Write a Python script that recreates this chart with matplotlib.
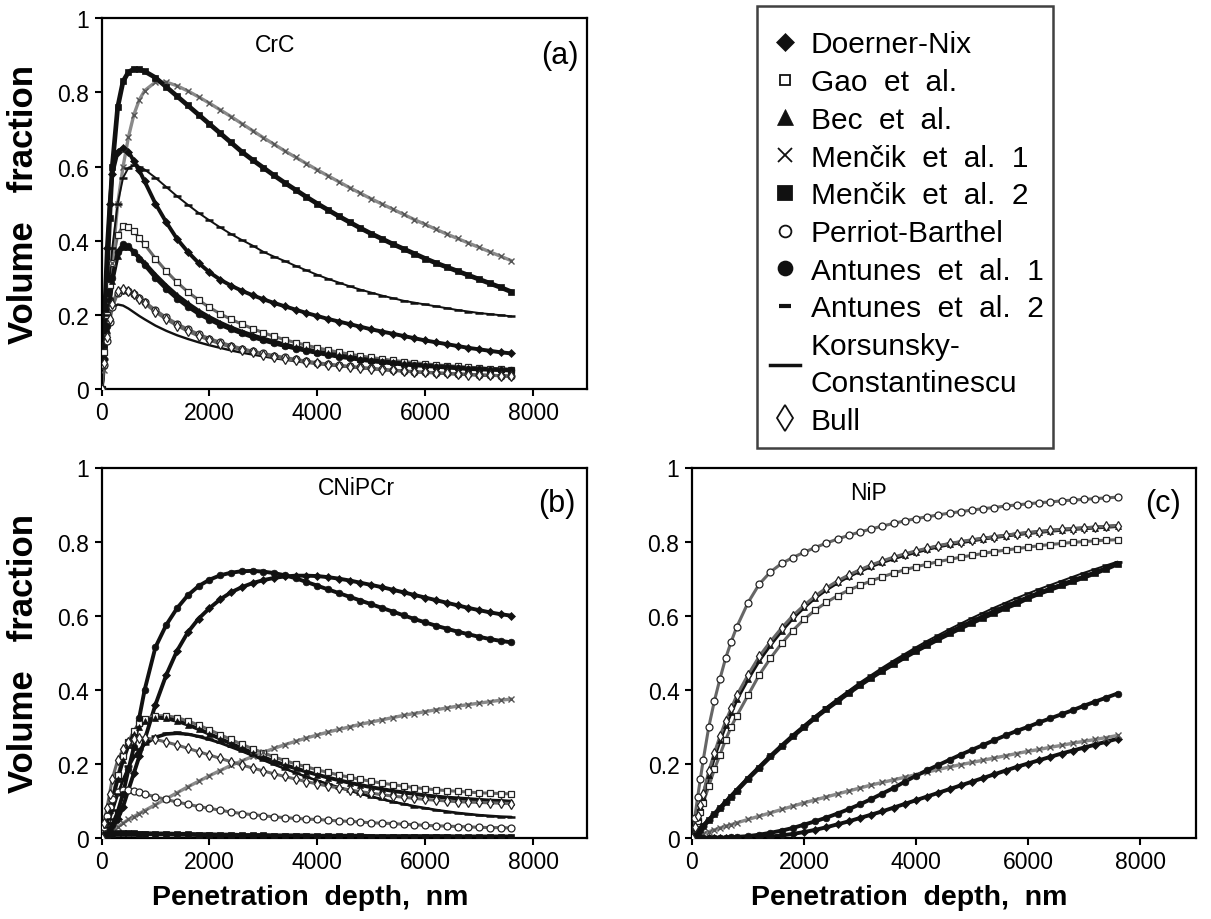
import matplotlib
matplotlib.use('Agg')
import matplotlib.pyplot as plt
from matplotlib.lines import Line2D

plt.rcParams['font.family'] = ['Liberation Sans', 'DejaVu Sans']

# ---------------- data ----------------
depth_nm = [0, 50, 100, 150, 200, 300, 400, 500, 600, 700, 800,
            1000, 1200, 1400, 1600, 1800, 2000, 2200, 2400, 2600, 2800,
            3000, 3200, 3400, 3600, 3800, 4000, 4200, 4400, 4600, 4800,
            5000, 5200, 5400, 5600, 5800, 6000, 6200, 6400, 6600, 6800,
            7000, 7200, 7400, 7600]

model_labels = ['Doerner-Nix', 'Gao  et  al.', 'Bec  et  al.', 'Menčik  et  al.  1',
                'Menčik  et  al.  2', 'Perriot-Barthel', 'Antunes  et  al.  1',
                'Antunes  et  al.  2', 'Korsunsky-\nConstantinescu', 'Bull']

panel_titles = ['CrC', 'CNiPCr', 'NiP']
panel_tags = ['(a)', '(b)', '(c)']
x_ticks = [0, 2000, 4000, 6000, 8000]
y_ticks = [0, 0.2, 0.4, 0.6, 0.8, 1.0]
y_tick_labels = ['0', '0.2', '0.4', '0.6', '0.8', '1']

# ---- (a) CrC ----
crc_doerner_nix = [0, 0.2, 0.38, 0.5, 0.58, 0.64, 0.65, 0.64, 0.615, 0.59, 0.56,
                   0.5, 0.45, 0.405, 0.37, 0.34, 0.315, 0.295, 0.279, 0.265, 0.253,
                   0.242, 0.232, 0.223, 0.214, 0.205, 0.197, 0.189, 0.182, 0.175, 0.168,
                   0.161, 0.155, 0.149, 0.143, 0.137, 0.131, 0.126, 0.121, 0.116, 0.111,
                   0.107, 0.103, 0.099, 0.096]
crc_gao = [0, 0.1, 0.2, 0.28, 0.34, 0.415, 0.44, 0.437, 0.425, 0.408, 0.39,
           0.352, 0.318, 0.288, 0.262, 0.24, 0.22, 0.203, 0.188, 0.175, 0.163,
           0.152, 0.142, 0.133, 0.125, 0.118, 0.111, 0.105, 0.099, 0.094, 0.089,
           0.085, 0.081, 0.077, 0.074, 0.071, 0.068, 0.065, 0.063, 0.061, 0.059,
           0.057, 0.055, 0.054, 0.052]
crc_bec = [0, 0.07, 0.16, 0.23, 0.29, 0.36, 0.384, 0.382, 0.37, 0.355, 0.34,
           0.308, 0.279, 0.253, 0.231, 0.211, 0.194, 0.179, 0.166, 0.155, 0.145,
           0.136, 0.128, 0.12, 0.113, 0.107, 0.101, 0.096, 0.091, 0.086, 0.082,
           0.078, 0.075, 0.072, 0.069, 0.066, 0.064, 0.062, 0.06, 0.058, 0.056,
           0.055, 0.054, 0.053, 0.052]
crc_mencik1 = [0, 0.05, 0.14, 0.24, 0.34, 0.5, 0.6, 0.68, 0.74, 0.78, 0.805,
               0.828, 0.828, 0.818, 0.804, 0.788, 0.771, 0.753, 0.735, 0.716, 0.697,
               0.678, 0.66, 0.642, 0.625, 0.608, 0.591, 0.575, 0.559, 0.543, 0.528,
               0.513, 0.499, 0.485, 0.471, 0.457, 0.444, 0.431, 0.418, 0.406, 0.394,
               0.382, 0.37, 0.358, 0.346]
crc_mencik2 = [0, 0.12, 0.3, 0.46, 0.6, 0.76, 0.83, 0.855, 0.863, 0.862, 0.857,
               0.84, 0.815, 0.79, 0.765, 0.74, 0.715, 0.69, 0.665, 0.64, 0.618,
               0.597, 0.576, 0.556, 0.537, 0.518, 0.5, 0.483, 0.466, 0.45, 0.434,
               0.419, 0.405, 0.391, 0.378, 0.365, 0.352, 0.34, 0.329, 0.318, 0.307,
               0.296, 0.285, 0.274, 0.262]
crc_perriot = [0, 0.065, 0.13, 0.18, 0.22, 0.258, 0.267, 0.264, 0.256, 0.246, 0.235,
               0.213, 0.193, 0.176, 0.161, 0.148, 0.136, 0.126, 0.117, 0.109, 0.102,
               0.096, 0.09, 0.085, 0.08, 0.075, 0.071, 0.067, 0.064, 0.061, 0.058,
               0.056, 0.053, 0.051, 0.049, 0.047, 0.045, 0.044, 0.042, 0.041, 0.04,
               0.038, 0.037, 0.036, 0.035]
crc_antunes1 = [0, 0.08, 0.17, 0.24, 0.3, 0.37, 0.39, 0.385, 0.37, 0.352, 0.335,
                0.3, 0.27, 0.244, 0.222, 0.203, 0.187, 0.173, 0.161, 0.15, 0.14,
                0.131, 0.123, 0.116, 0.109, 0.103, 0.097, 0.092, 0.087, 0.083, 0.079,
                0.075, 0.072, 0.069, 0.066, 0.064, 0.062, 0.06, 0.058, 0.056, 0.054,
                0.053, 0.052, 0.051, 0.05]
crc_antunes2 = [0, 0.08, 0.2, 0.3, 0.38, 0.5, 0.57, 0.597, 0.603, 0.6, 0.592,
                0.57, 0.545, 0.52, 0.497, 0.475, 0.455, 0.436, 0.418, 0.402, 0.387,
                0.37, 0.357, 0.345, 0.332, 0.32, 0.308, 0.297, 0.287, 0.277, 0.268,
                0.26, 0.252, 0.245, 0.238, 0.233, 0.228, 0.223, 0.218, 0.213, 0.209,
                0.205, 0.202, 0.199, 0.196]
crc_korsunsky = [0, 0.09, 0.16, 0.2, 0.218, 0.228, 0.225, 0.217, 0.207, 0.197, 0.188,
                 0.171, 0.157, 0.145, 0.135, 0.126, 0.118, 0.111, 0.104, 0.098, 0.093,
                 0.088, 0.083, 0.079, 0.075, 0.071, 0.068, 0.065, 0.062, 0.059, 0.057,
                 0.054, 0.052, 0.05, 0.048, 0.046, 0.044, 0.043, 0.041, 0.04, 0.038,
                 0.037, 0.036, 0.035, 0.034]
crc_bull = [0, 0.07, 0.14, 0.19, 0.23, 0.265, 0.27, 0.265, 0.255, 0.243, 0.231,
            0.208, 0.188, 0.171, 0.156, 0.143, 0.132, 0.122, 0.113, 0.106, 0.099,
            0.093, 0.087, 0.082, 0.077, 0.073, 0.069, 0.066, 0.063, 0.06, 0.057,
            0.055, 0.052, 0.05, 0.048, 0.046, 0.045, 0.043, 0.042, 0.04, 0.039,
            0.038, 0.037, 0.036, 0.035]

# ---- (b) CNiPCr ----
cnipcr_doerner_nix = [0, 0.0, 0.005, 0.01, 0.02, 0.05, 0.085, 0.13, 0.175, 0.22, 0.265,
                      0.36, 0.44, 0.505, 0.555, 0.592, 0.62, 0.644, 0.663, 0.677, 0.688,
                      0.696, 0.702, 0.706, 0.708, 0.708, 0.707, 0.704, 0.7, 0.695, 0.689,
                      0.683, 0.677, 0.67, 0.663, 0.656, 0.649, 0.642, 0.635, 0.628, 0.621,
                      0.615, 0.609, 0.604, 0.6]
cnipcr_gao = [0, 0.02, 0.05, 0.08, 0.11, 0.17, 0.22, 0.26, 0.29, 0.31, 0.322,
              0.33, 0.33, 0.325, 0.316, 0.305, 0.292, 0.279, 0.266, 0.253, 0.241,
              0.23, 0.219, 0.209, 0.2, 0.192, 0.184, 0.177, 0.17, 0.164, 0.158,
              0.153, 0.148, 0.144, 0.14, 0.136, 0.133, 0.13, 0.128, 0.126, 0.124,
              0.122, 0.121, 0.12, 0.119]
cnipcr_bec = [0, 0.02, 0.045, 0.075, 0.1, 0.16, 0.21, 0.25, 0.28, 0.3, 0.315,
              0.325, 0.323, 0.316, 0.306, 0.294, 0.281, 0.268, 0.255, 0.242, 0.23,
              0.218, 0.207, 0.197, 0.188, 0.179, 0.171, 0.163, 0.156, 0.149, 0.143,
              0.137, 0.132, 0.127, 0.123, 0.119, 0.115, 0.112, 0.109, 0.107, 0.105,
              0.103, 0.101, 0.1, 0.098]
cnipcr_mencik1 = [0, 0.005, 0.01, 0.015, 0.02, 0.03, 0.04, 0.05, 0.058, 0.066, 0.074,
                  0.09, 0.106, 0.122, 0.138, 0.153, 0.168, 0.182, 0.196, 0.208, 0.22,
                  0.231, 0.242, 0.252, 0.261, 0.27, 0.278, 0.286, 0.293, 0.3, 0.307,
                  0.313, 0.319, 0.325, 0.331, 0.336, 0.341, 0.346, 0.351, 0.356, 0.36,
                  0.364, 0.368, 0.372, 0.375]
cnipcr_mencik2 = [0, 0.005, 0.009, 0.011, 0.012, 0.013, 0.013, 0.013, 0.013, 0.012, 0.012,
                  0.011, 0.011, 0.01, 0.01, 0.009, 0.009, 0.008, 0.008, 0.007, 0.007,
                  0.007, 0.006, 0.006, 0.006, 0.006, 0.005, 0.005, 0.005, 0.005, 0.005,
                  0.004, 0.004, 0.004, 0.004, 0.004, 0.004, 0.004, 0.004, 0.003, 0.003,
                  0.003, 0.003, 0.003, 0.003]
cnipcr_perriot = [0, 0.03, 0.06, 0.085, 0.105, 0.123, 0.13, 0.13, 0.127, 0.123, 0.119,
                  0.111, 0.104, 0.097, 0.091, 0.085, 0.08, 0.075, 0.07, 0.066, 0.063,
                  0.06, 0.057, 0.055, 0.053, 0.051, 0.05, 0.048, 0.046, 0.045, 0.043,
                  0.041, 0.04, 0.039, 0.037, 0.036, 0.034, 0.033, 0.032, 0.031, 0.03,
                  0.029, 0.028, 0.028, 0.027]
cnipcr_antunes1 = [0, 0.0, 0.01, 0.02, 0.035, 0.07, 0.12, 0.185, 0.245, 0.325, 0.4,
                   0.515, 0.575, 0.62, 0.655, 0.68, 0.697, 0.709, 0.716, 0.72, 0.721,
                   0.719, 0.715, 0.709, 0.701, 0.691, 0.681, 0.671, 0.661, 0.651, 0.641,
                   0.631, 0.621, 0.611, 0.601, 0.591, 0.582, 0.573, 0.565, 0.557, 0.55,
                   0.543, 0.537, 0.532, 0.528]
cnipcr_antunes2 = [0, 0.01, 0.03, 0.05, 0.075, 0.12, 0.16, 0.195, 0.22, 0.24, 0.255,
                   0.274, 0.283, 0.285, 0.282, 0.276, 0.268, 0.258, 0.247, 0.235, 0.223,
                   0.211, 0.199, 0.187, 0.176, 0.165, 0.155, 0.145, 0.136, 0.127, 0.119,
                   0.111, 0.104, 0.097, 0.091, 0.085, 0.08, 0.075, 0.071, 0.067, 0.064,
                   0.061, 0.059, 0.057, 0.056]
cnipcr_korsunsky = [0, 0.01, 0.028, 0.048, 0.07, 0.115, 0.155, 0.19, 0.216, 0.236, 0.251,
                    0.27, 0.279, 0.281, 0.279, 0.273, 0.265, 0.256, 0.245, 0.234, 0.222,
                    0.21, 0.198, 0.187, 0.176, 0.165, 0.155, 0.146, 0.137, 0.128, 0.12,
                    0.112, 0.105, 0.098, 0.092, 0.086, 0.081, 0.076, 0.072, 0.068, 0.065,
                    0.062, 0.06, 0.058, 0.057]
cnipcr_bull = [0, 0.04, 0.08, 0.12, 0.16, 0.21, 0.24, 0.258, 0.267, 0.27, 0.27,
               0.266, 0.259, 0.251, 0.242, 0.233, 0.224, 0.215, 0.206, 0.197, 0.189,
               0.181, 0.173, 0.166, 0.159, 0.152, 0.146, 0.14, 0.135, 0.13, 0.125,
               0.121, 0.117, 0.113, 0.11, 0.107, 0.104, 0.102, 0.1, 0.098, 0.097,
               0.096, 0.095, 0.094, 0.093]

# ---- (c) NiP ----
nip_doerner_nix = [0, 0, 0, 0, 0, 0, 0, 0, 0, 0, 0.001,
                   0.001, 0.002, 0.004, 0.007, 0.011, 0.016, 0.022, 0.029, 0.037, 0.045,
                   0.054, 0.063, 0.072, 0.082, 0.092, 0.102, 0.112, 0.122, 0.132, 0.142,
                   0.152, 0.162, 0.172, 0.182, 0.192, 0.201, 0.21, 0.219, 0.228, 0.236,
                   0.244, 0.252, 0.26, 0.268]
nip_gao = [0, 0.02, 0.045, 0.07, 0.095, 0.14, 0.185, 0.225, 0.265, 0.3, 0.33,
           0.385, 0.44, 0.485, 0.525, 0.56, 0.59, 0.615, 0.636, 0.654, 0.669,
           0.682, 0.694, 0.705, 0.715, 0.724, 0.732, 0.739, 0.746, 0.752, 0.758,
           0.763, 0.768, 0.773, 0.777, 0.781, 0.785, 0.789, 0.792, 0.795, 0.798,
           0.8, 0.802, 0.804, 0.805]
nip_bec = [0, 0.028, 0.056, 0.084, 0.112, 0.17, 0.22, 0.265, 0.305, 0.34, 0.375,
           0.43, 0.48, 0.522, 0.56, 0.594, 0.623, 0.649, 0.671, 0.69, 0.707,
           0.721, 0.734, 0.745, 0.755, 0.764, 0.772, 0.78, 0.787, 0.793, 0.798,
           0.803, 0.808, 0.812, 0.816, 0.82, 0.823, 0.826, 0.829, 0.832, 0.834,
           0.836, 0.838, 0.84, 0.842]
nip_mencik1 = [0, 0.003, 0.006, 0.009, 0.012, 0.017, 0.022, 0.027, 0.032, 0.036, 0.041,
               0.05, 0.059, 0.068, 0.077, 0.086, 0.095, 0.103, 0.111, 0.119, 0.127,
               0.135, 0.143, 0.15, 0.157, 0.164, 0.171, 0.178, 0.185, 0.192, 0.198,
               0.204, 0.21, 0.216, 0.222, 0.228, 0.234, 0.239, 0.245, 0.25, 0.256,
               0.261, 0.266, 0.271, 0.277]
nip_mencik2 = [0, 0.008, 0.016, 0.024, 0.032, 0.048, 0.064, 0.08, 0.096, 0.112, 0.128,
               0.16, 0.19, 0.22, 0.248, 0.275, 0.3, 0.325, 0.348, 0.37, 0.392,
               0.413, 0.433, 0.452, 0.47, 0.488, 0.505, 0.521, 0.537, 0.552, 0.567,
               0.581, 0.595, 0.608, 0.621, 0.633, 0.648, 0.66, 0.671, 0.682, 0.693,
               0.704, 0.715, 0.727, 0.74]
nip_perriot = [0, 0.055, 0.11, 0.16, 0.21, 0.3, 0.37, 0.43, 0.485, 0.53, 0.57,
               0.635, 0.685, 0.718, 0.741, 0.757, 0.771, 0.784, 0.796, 0.807, 0.817,
               0.826, 0.834, 0.842, 0.849, 0.856, 0.862, 0.867, 0.872, 0.877, 0.881,
               0.885, 0.889, 0.892, 0.896, 0.899, 0.902, 0.905, 0.907, 0.91, 0.912,
               0.914, 0.916, 0.918, 0.92]
nip_antunes1 = [0, 0, 0, 0, 0, 0, 0.001, 0.001, 0.001, 0.002, 0.003,
                0.005, 0.009, 0.014, 0.02, 0.027, 0.036, 0.045, 0.055, 0.066, 0.078,
                0.091, 0.105, 0.12, 0.135, 0.152, 0.168, 0.183, 0.197, 0.211, 0.225,
                0.238, 0.251, 0.264, 0.277, 0.289, 0.3, 0.312, 0.323, 0.334, 0.345,
                0.357, 0.368, 0.379, 0.39]
nip_antunes2 = [0, 0.008, 0.016, 0.024, 0.032, 0.048, 0.064, 0.08, 0.096, 0.112, 0.128,
                0.16, 0.19, 0.22, 0.249, 0.277, 0.303, 0.329, 0.353, 0.376, 0.398,
                0.42, 0.44, 0.46, 0.479, 0.497, 0.515, 0.532, 0.548, 0.564, 0.579,
                0.594, 0.608, 0.622, 0.635, 0.648, 0.66, 0.672, 0.683, 0.694, 0.705,
                0.716, 0.726, 0.736, 0.746]
nip_korsunsky = [0, 0.009, 0.018, 0.027, 0.036, 0.052, 0.068, 0.084, 0.1, 0.116, 0.132,
                 0.163, 0.193, 0.222, 0.25, 0.277, 0.302, 0.327, 0.35, 0.373, 0.395,
                 0.416, 0.436, 0.456, 0.474, 0.492, 0.51, 0.526, 0.542, 0.558, 0.573,
                 0.587, 0.601, 0.615, 0.628, 0.64, 0.652, 0.664, 0.675, 0.686, 0.697,
                 0.708, 0.719, 0.73, 0.742]
nip_bull = [0, 0.03, 0.06, 0.09, 0.12, 0.18, 0.23, 0.275, 0.315, 0.35, 0.385,
            0.44, 0.49, 0.53, 0.567, 0.6, 0.628, 0.653, 0.675, 0.694, 0.71,
            0.724, 0.737, 0.748, 0.758, 0.767, 0.775, 0.782, 0.789, 0.795, 0.8,
            0.805, 0.809, 0.813, 0.817, 0.821, 0.824, 0.827, 0.83, 0.833, 0.835,
            0.837, 0.839, 0.841, 0.843]

panel_series = [
    [crc_doerner_nix, crc_gao, crc_bec, crc_mencik1, crc_mencik2, crc_perriot,
     crc_antunes1, crc_antunes2, crc_korsunsky, crc_bull],
    [cnipcr_doerner_nix, cnipcr_gao, cnipcr_bec, cnipcr_mencik1, cnipcr_mencik2,
     cnipcr_perriot, cnipcr_antunes1, cnipcr_antunes2, cnipcr_korsunsky, cnipcr_bull],
    [nip_doerner_nix, nip_gao, nip_bec, nip_mencik1, nip_mencik2, nip_perriot,
     nip_antunes1, nip_antunes2, nip_korsunsky, nip_bull],
]

# --------------- styles ----------------
styles = [
    dict(marker='D', ms=3.8, mfc='#111111', mec='#111111', mew=0.5, lc='#111111', lw=2.8),   # Doerner-Nix
    dict(marker='s', ms=4.6, mfc='white', mec='#222222', mew=0.9, lc='#666666', lw=2.2),     # Gao
    dict(marker='^', ms=4.8, mfc='#111111', mec='#111111', mew=0.5, lc='#111111', lw=2.8),   # Bec
    dict(marker='x', ms=4.8, mfc='none', mec='#555555', mew=1.0, lc='#8a8a8a', lw=2.4),      # Mencik 1
    dict(marker='s', ms=4.8, mfc='#111111', mec='#111111', mew=0.5, lc='#111111', lw=3.4),   # Mencik 2
    dict(marker='o', ms=5.0, mfc='white', mec='#222222', mew=0.9, lc='#666666', lw=2.2),     # Perriot
    dict(marker='o', ms=4.8, mfc='#111111', mec='#111111', mew=0.5, lc='#111111', lw=2.8),   # Antunes 1
    dict(marker='_', ms=5.5, mfc='#111111', mec='#111111', mew=1.8, lc='#111111', lw=1.4),   # Antunes 2
    dict(marker=None, ms=0, mfc='none', mec='#111111', mew=0, lc='#111111', lw=1.7),         # Korsunsky
    dict(marker='d', ms=5.4, mfc='white', mec='#222222', mew=0.9, lc='#666666', lw=2.2),     # Bull
]

W, H = 1211, 920
fig = plt.figure(figsize=(W / 100, H / 100), dpi=100)

def fbox(x0, x1, ytop, ybot):
    return [x0 / W, 1 - ybot / H, (x1 - x0) / W, (ybot - ytop) / H]

axes_boxes = [fbox(101.5, 587.0, 19.3, 390.0),
              fbox(101.5, 587.0, 468.5, 839.0),
              fbox(692.0, 1196.0, 468.5, 839.0)]
title_pos = [(3216, 0.93), (4730, 0.947), (3160, 0.933)]
tag_pos = [(8500, 0.90), (8440, 0.905), (8410, 0.905)]

for p in range(3):
    ax = fig.add_axes(axes_boxes[p])
    for vals, st in zip(panel_series[p], styles):
        ax.plot(depth_nm, vals, color=st['lc'], lw=st['lw'], zorder=2,
                solid_capstyle='round')
        if st['marker']:
            ax.plot(depth_nm, vals, ls='none', marker=st['marker'], ms=st['ms'],
                    mfc=st['mfc'], mec=st['mec'], mew=st['mew'], zorder=3)
    ax.set_xlim(0, 9000)
    ax.set_ylim(0, 1)
    ax.set_xticks(x_ticks)
    ax.set_xticklabels([str(t) for t in x_ticks])
    ax.set_yticks(y_ticks)
    ax.set_yticklabels(y_tick_labels)
    ax.tick_params(direction='out', length=5, width=1.5, labelsize=16.5, pad=4)
    for s in ax.spines.values():
        s.set_linewidth(1.6)
    ax.text(title_pos[p][0], title_pos[p][1], panel_titles[p], fontsize=16.5,
            ha='center', va='center')
    ax.text(tag_pos[p][0], tag_pos[p][1], panel_tags[p], fontsize=22,
            ha='center', va='center')
    if p in (0, 1):
        ax.set_ylabel('Volume   fraction', fontsize=25, fontweight='bold')
        ax.yaxis.set_label_coords(-0.127, 0.5)
    if p in (1, 2):
        ax.set_xlabel('Penetration  depth,  nm', fontsize=20.5, fontweight='bold')
        ax.xaxis.set_label_coords(0.43, -0.125)

# --------------- legend ----------------
leg_sizes = [9, 7, 11, 10, 9.5, 8.5, 10, 9, 0, 13]
handles = []
for st, ms in zip(styles, leg_sizes):
    if st['marker']:
        mew = 1.3 if st['marker'] in ('x', 's', 'o', 'd') else 0.5
        if st['marker'] == '_':
            mew = 3
        h = Line2D([], [], ls='none', marker=st['marker'], ms=ms,
                   mfc=st['mfc'], mec='#111111', mew=mew)
    else:
        h = Line2D([], [], color='#111111', lw=2.5)
    handles.append(h)

leg_top = 1 - 7.3 / H
leg = fig.legend(handles, model_labels, loc='upper left',
                 bbox_to_anchor=(757 / W, leg_top - 0.001, 296 / W, 0.001), mode='expand',
                 fontsize=21.5, frameon=True, fancybox=False, edgecolor='#111111',
                 handlelength=1.0, handletextpad=0.35, labelspacing=0.325,
                 borderpad=0.45, borderaxespad=0, title=' ', title_fontsize=1)
leg.get_frame().set_linewidth(1.8)
leg.get_texts()[8].set_linespacing(1.4)

fig.savefig('out.png', dpi=100)
